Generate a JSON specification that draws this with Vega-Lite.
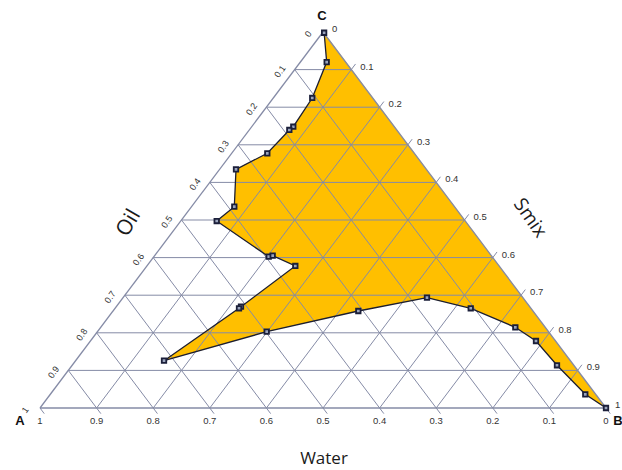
{
  "$schema": "https://vega.github.io/schema/vega-lite/v6.json",
  "width": 566,
  "height": 376,
  "autosize": {"type": "none"},
  "padding": {"left": 40, "top": 32, "right": 16, "bottom": 62},
  "background": "white",
  "config": {"view": {"stroke": null}},
  "datasets": {
    "boundary": [
      {"i": 1, "x": 0.502, "y": 0.998},
      {"i": 2, "x": 0.5065, "y": 0.920},
      {"i": 3, "x": 0.481, "y": 0.8245},
      {"i": 4, "x": 0.4475, "y": 0.7481},
      {"i": 5, "x": 0.4405, "y": 0.7394},
      {"i": 6, "x": 0.4016, "y": 0.6774},
      {"i": 7, "x": 0.3463, "y": 0.6348},
      {"i": 8, "x": 0.3433, "y": 0.5354},
      {"i": 9, "x": 0.3122, "y": 0.4973},
      {"i": 10, "x": 0.4041, "y": 0.4024},
      {"i": 11, "x": 0.4111, "y": 0.4051},
      {"i": 12, "x": 0.4511, "y": 0.3777},
      {"i": 13, "x": 0.3551, "y": 0.2694},
      {"i": 14, "x": 0.3516, "y": 0.2652},
      {"i": 15, "x": 0.2191, "y": 0.1258},
      {"i": 16, "x": 0.4005, "y": 0.2029},
      {"i": 17, "x": 0.5624, "y": 0.2580},
      {"i": 18, "x": 0.6837, "y": 0.2934},
      {"i": 19, "x": 0.7610, "y": 0.2652},
      {"i": 20, "x": 0.8398, "y": 0.2146},
      {"i": 21, "x": 0.8763, "y": 0.1782},
      {"i": 22, "x": 0.9134, "y": 0.1136},
      {"i": 23, "x": 0.9634, "y": 0.0364},
      {"i": 24, "x": 1.0, "y": 0.0}
    ],
    "grid": [
      {"x": 0.05, "y": 0.1, "x2": 0.95, "y2": 0.1},
      {"x": 0.10, "y": 0.2, "x2": 0.90, "y2": 0.2},
      {"x": 0.15, "y": 0.3, "x2": 0.85, "y2": 0.3},
      {"x": 0.20, "y": 0.4, "x2": 0.80, "y2": 0.4},
      {"x": 0.25, "y": 0.5, "x2": 0.75, "y2": 0.5},
      {"x": 0.30, "y": 0.6, "x2": 0.70, "y2": 0.6},
      {"x": 0.35, "y": 0.7, "x2": 0.65, "y2": 0.7},
      {"x": 0.40, "y": 0.8, "x2": 0.60, "y2": 0.8},
      {"x": 0.45, "y": 0.9, "x2": 0.55, "y2": 0.9},
      {"x": 0.1, "y": 0, "x2": 0.5575, "y2": 0.915},
      {"x": 0.2, "y": 0, "x2": 0.6075, "y2": 0.815},
      {"x": 0.3, "y": 0, "x2": 0.6575, "y2": 0.715},
      {"x": 0.4, "y": 0, "x2": 0.7075, "y2": 0.615},
      {"x": 0.5, "y": 0, "x2": 0.7575, "y2": 0.515},
      {"x": 0.6, "y": 0, "x2": 0.8075, "y2": 0.415},
      {"x": 0.7, "y": 0, "x2": 0.8575, "y2": 0.315},
      {"x": 0.8, "y": 0, "x2": 0.9075, "y2": 0.215},
      {"x": 0.9, "y": 0, "x2": 0.9575, "y2": 0.115},
      {"x": 0.9075, "y": -0.015, "x2": 0.45, "y2": 0.9},
      {"x": 0.8075, "y": -0.015, "x2": 0.40, "y2": 0.8},
      {"x": 0.7075, "y": -0.015, "x2": 0.35, "y2": 0.7},
      {"x": 0.6075, "y": -0.015, "x2": 0.30, "y2": 0.6},
      {"x": 0.5075, "y": -0.015, "x2": 0.25, "y2": 0.5},
      {"x": 0.4075, "y": -0.015, "x2": 0.20, "y2": 0.4},
      {"x": 0.3075, "y": -0.015, "x2": 0.15, "y2": 0.3},
      {"x": 0.2075, "y": -0.015, "x2": 0.10, "y2": 0.2},
      {"x": 0.1075, "y": -0.015, "x2": 0.05, "y2": 0.1},
      {"x": 0.0075, "y": -0.015, "x2": 0.0, "y2": 0.0},
      {"x": 1.0075, "y": -0.015, "x2": 1.0, "y2": 0.0}
    ],
    "edges": [
      {"x": 0, "y": 0, "x2": 1, "y2": 0},
      {"x": 0, "y": 0, "x2": 0.5, "y2": 1},
      {"x": 1, "y": 0, "x2": 0.5, "y2": 1}
    ],
    "oilLabels": [
      {"x": 0.5, "y": 1.0, "t": "0"},
      {"x": 0.45, "y": 0.9, "t": "0.1"},
      {"x": 0.40, "y": 0.8, "t": "0.2"},
      {"x": 0.35, "y": 0.7, "t": "0.3"},
      {"x": 0.30, "y": 0.6, "t": "0.4"},
      {"x": 0.25, "y": 0.5, "t": "0.5"},
      {"x": 0.20, "y": 0.4, "t": "0.6"},
      {"x": 0.15, "y": 0.3, "t": "0.7"},
      {"x": 0.10, "y": 0.2, "t": "0.8"},
      {"x": 0.05, "y": 0.1, "t": "0.9"},
      {"x": 0.0, "y": 0.0, "t": "1"}
    ],
    "smixLabels": [
      {"x": 0.5, "y": 1.0, "t": "0"},
      {"x": 0.55, "y": 0.9, "t": "0.1"},
      {"x": 0.60, "y": 0.8, "t": "0.2"},
      {"x": 0.65, "y": 0.7, "t": "0.3"},
      {"x": 0.70, "y": 0.6, "t": "0.4"},
      {"x": 0.75, "y": 0.5, "t": "0.5"},
      {"x": 0.80, "y": 0.4, "t": "0.6"},
      {"x": 0.85, "y": 0.3, "t": "0.7"},
      {"x": 0.90, "y": 0.2, "t": "0.8"},
      {"x": 0.95, "y": 0.1, "t": "0.9"},
      {"x": 1.0, "y": 0.0, "t": "1"}
    ],
    "waterLabels": [
      {"x": 0.0, "y": 0, "t": "1"},
      {"x": 0.1, "y": 0, "t": "0.9"},
      {"x": 0.2, "y": 0, "t": "0.8"},
      {"x": 0.3, "y": 0, "t": "0.7"},
      {"x": 0.4, "y": 0, "t": "0.6"},
      {"x": 0.5, "y": 0, "t": "0.5"},
      {"x": 0.6, "y": 0, "t": "0.4"},
      {"x": 0.7, "y": 0, "t": "0.3"},
      {"x": 0.8, "y": 0, "t": "0.2"},
      {"x": 0.9, "y": 0, "t": "0.1"},
      {"x": 1.0, "y": 0, "t": "0"}
    ]
  },
  "layer": [
    {
      "data": {"name": "boundary"},
      "mark": {"type": "line", "interpolate": "linear-closed", "filled": true, "fill": "#FFBF00", "fillOpacity": 1, "strokeOpacity": 0},
      "encoding": {
        "x": {"field": "x", "type": "quantitative", "scale": {"domain": [0, 1], "nice": false, "zero": false}, "axis": null},
        "y": {"field": "y", "type": "quantitative", "scale": {"domain": [0, 1], "nice": false, "zero": false}, "axis": null},
        "order": {"field": "i", "type": "quantitative"}
      }
    },
    {
      "data": {"name": "grid"},
      "mark": {"type": "rule", "color": "#858ba6", "strokeWidth": 1},
      "encoding": {
        "x": {"field": "x", "type": "quantitative", "axis": null},
        "y": {"field": "y", "type": "quantitative", "axis": null},
        "x2": {"field": "x2"},
        "y2": {"field": "y2"}
      }
    },
    {
      "data": {"name": "edges"},
      "mark": {"type": "rule", "color": "#858ba6", "strokeWidth": 1.3},
      "encoding": {
        "x": {"field": "x", "type": "quantitative", "axis": null},
        "y": {"field": "y", "type": "quantitative", "axis": null},
        "x2": {"field": "x2"},
        "y2": {"field": "y2"}
      }
    },
    {
      "data": {"name": "boundary"},
      "mark": {"type": "line", "color": "#1c1e30", "strokeWidth": 1.3},
      "encoding": {
        "x": {"field": "x", "type": "quantitative", "axis": null},
        "y": {"field": "y", "type": "quantitative", "axis": null},
        "order": {"field": "i", "type": "quantitative"}
      }
    },
    {
      "data": {"name": "boundary"},
      "mark": {"type": "point", "shape": "square", "size": 20, "filled": false, "fill": "#9aa4bc", "fillOpacity": 1, "stroke": "#1b1f3a", "strokeWidth": 1.8, "opacity": 1},
      "encoding": {
        "x": {"field": "x", "type": "quantitative", "axis": null},
        "y": {"field": "y", "type": "quantitative", "axis": null}
      }
    },
    {
      "data": {"name": "oilLabels"},
      "mark": {"type": "text", "dx": -10, "dy": -11, "angle": 305, "align": "center", "baseline": "middle", "font": "Liberation Sans", "fontSize": 9, "color": "#333333"},
      "encoding": {
        "x": {"field": "x", "type": "quantitative", "axis": null},
        "y": {"field": "y", "type": "quantitative", "axis": null},
        "text": {"field": "t"}
      }
    },
    {
      "data": {"name": "smixLabels"},
      "mark": {"type": "text", "dx": 9, "dy": -3, "align": "left", "baseline": "middle", "font": "Liberation Sans", "fontSize": 9.5, "color": "#333333"},
      "encoding": {
        "x": {"field": "x", "type": "quantitative", "axis": null},
        "y": {"field": "y", "type": "quantitative", "axis": null},
        "text": {"field": "t"}
      }
    },
    {
      "data": {"name": "waterLabels"},
      "mark": {"type": "text", "dy": 13, "align": "center", "baseline": "middle", "font": "Liberation Sans", "fontSize": 9.5, "color": "#333333"},
      "encoding": {
        "x": {"field": "x", "type": "quantitative", "axis": null},
        "y": {"field": "y", "type": "quantitative", "axis": null},
        "text": {"field": "t"}
      }
    },
    {
      "data": {"values": [{"x": 0, "y": 0, "t": "A"}]},
      "mark": {"type": "text", "dx": -20, "dy": 13, "align": "center", "baseline": "middle", "font": "Liberation Sans", "fontWeight": "bold", "fontSize": 13, "color": "#111111"},
      "encoding": {
        "x": {"field": "x", "type": "quantitative", "axis": null},
        "y": {"field": "y", "type": "quantitative", "axis": null},
        "text": {"field": "t"}
      }
    },
    {
      "data": {"values": [{"x": 1, "y": 0, "t": "B"}]},
      "mark": {"type": "text", "dx": 12, "dy": 13, "align": "center", "baseline": "middle", "font": "Liberation Sans", "fontWeight": "bold", "fontSize": 13, "color": "#111111"},
      "encoding": {
        "x": {"field": "x", "type": "quantitative", "axis": null},
        "y": {"field": "y", "type": "quantitative", "axis": null},
        "text": {"field": "t"}
      }
    },
    {
      "data": {"values": [{"x": 0.5, "y": 1, "t": "C"}]},
      "mark": {"type": "text", "dx": -1, "dy": -16, "align": "center", "baseline": "middle", "font": "Liberation Sans", "fontWeight": "bold", "fontSize": 13, "color": "#111111"},
      "encoding": {
        "x": {"field": "x", "type": "quantitative", "axis": null},
        "y": {"field": "y", "type": "quantitative", "axis": null},
        "text": {"field": "t"}
      }
    },
    {
      "data": {"values": [{"x": 0.25, "y": 0.5, "t": "Oil"}]},
      "mark": {"type": "text", "dx": -29, "dy": -44, "angle": 300, "align": "center", "baseline": "middle", "font": "Open Sans", "fontSize": 21, "color": "#1a1a1a"},
      "encoding": {
        "x": {"field": "x", "type": "quantitative", "axis": null},
        "y": {"field": "y", "type": "quantitative", "axis": null},
        "text": {"field": "t"}
      }
    },
    {
      "data": {"values": [{"x": 0.75, "y": 0.5, "t": "Smix"}]},
      "mark": {"type": "text", "dx": 36, "dy": -55, "angle": 55, "align": "center", "baseline": "middle", "font": "Open Sans", "fontSize": 19, "color": "#1a1a1a"},
      "encoding": {
        "x": {"field": "x", "type": "quantitative", "axis": null},
        "y": {"field": "y", "type": "quantitative", "axis": null},
        "text": {"field": "t"}
      }
    },
    {
      "data": {"values": [{"x": 0.5, "y": 0, "t": "Water"}]},
      "mark": {"type": "text", "dx": 1, "dy": 51, "align": "center", "baseline": "middle", "font": "Open Sans", "fontSize": 17, "color": "#1a1a1a"},
      "encoding": {
        "x": {"field": "x", "type": "quantitative", "axis": null},
        "y": {"field": "y", "type": "quantitative", "axis": null},
        "text": {"field": "t"}
      }
    }
  ]
}
